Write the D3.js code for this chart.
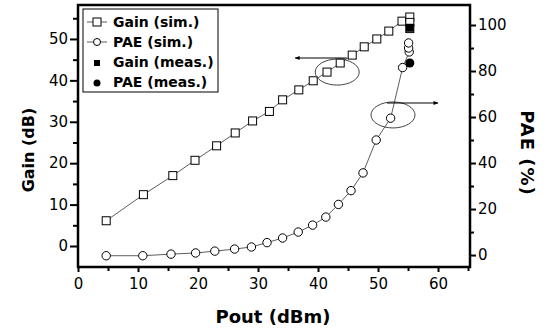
<!DOCTYPE html>
<html>
<head>
<meta charset="utf-8">
<script src="https://cdn.jsdelivr.net/npm/d3@7"></script>
<style>
  body { margin: 0; background: #fff; }
  text { font-family: "DejaVu Sans", sans-serif; }
</style>
</head>
<body>
<div id="chart"></div>
<script>
// data
const gainSimX = [4.7, 10.9, 15.8, 19.5, 23.1, 26.2, 29.1, 31.9, 34.1, 36.8, 39.2, 41.5, 43.7, 45.7, 47.7, 49.8, 51.8, 54.0, 55.3, 55.3, 55.3];
const gainSimY = [6.1, 12.4, 17.0, 20.7, 24.2, 27.3, 30.2, 32.5, 35.3, 37.7, 39.9, 42.0, 44.2, 46.1, 48.1, 50.0, 51.9, 54.3, 55.3, 54.0, 52.5];
const paeSimX = [4.7, 10.8, 15.5, 19.6, 22.8, 26.1, 28.9, 31.5, 34.1, 36.7, 39.1, 41.3, 43.4, 45.5, 47.5, 49.7, 52.1, 54.1, 55.2, 55.1, 55.1];
const paeSimY = [-0.3, -0.3, 0.4, 0.9, 1.7, 2.6, 3.5, 5.4, 7.4, 10.0, 13.0, 16.5, 22.0, 28.0, 35.7, 50.0, 59.5, 81.5, 88.3, 90.0, 92.2];
const gainMeas = [[55.3, 52.7]];
const paeMeas = [[55.3, 83.5]];

const xTicks = [0, 10, 20, 30, 40, 50, 60];
const gainTicks = [0, 10, 20, 30, 40, 50];
const paeTicks = [0, 20, 40, 60, 80, 100];

const legendItems = ["Gain (sim.)", "PAE (sim.)", "Gain (meas.)", "PAE (meas.)"];

const W = 552, H = 329;
const plot = {left: 78, right: 470, top: 5, bottom: 267};

const svg = d3.select("#chart").append("svg")
    .attr("width", W).attr("height", H);

const x = d3.scaleLinear().domain([0, 65.33]).range([plot.left, plot.right]);
const yG = d3.scaleLinear().domain([-5.07, 58.2]).range([plot.bottom, plot.top]);
const yP = d3.scaleLinear().domain([-5.2, 108.7]).range([plot.bottom, plot.top]);

// axes
function styleAxis(g, size) {
    g.select(".domain").remove();
    g.selectAll(".tick line").attr("stroke", "#000").attr("stroke-width", 2);
    g.selectAll(".tick text").style("font-size", size + "px").attr("fill", "#000");
}

svg.append("g").attr("transform", `translate(0,${plot.bottom})`)
    .call(d3.axisBottom(x).tickValues(xTicks).tickSize(5).tickPadding(6))
    .call(g => styleAxis(g, 15));
svg.append("g").attr("transform", `translate(0,${plot.bottom})`)
    .call(d3.axisBottom(x).tickValues(xTicks.map(d => d + 5)).tickSize(4).tickFormat(""))
    .call(g => styleAxis(g, 15));

svg.append("g").attr("transform", `translate(${plot.left},0)`)
    .call(d3.axisLeft(yG).tickValues(gainTicks).tickSize(8).tickPadding(2))
    .call(g => styleAxis(g, 15));
svg.append("g").attr("transform", `translate(${plot.left},0)`)
    .call(d3.axisLeft(yG).tickValues(gainTicks.map(d => d + 5)).tickSize(5).tickFormat(""))
    .call(g => styleAxis(g, 15));

svg.append("g").attr("transform", `translate(${plot.right},0)`)
    .call(d3.axisRight(yP).tickValues(paeTicks).tickSize(6).tickPadding(2))
    .call(g => styleAxis(g, 15));
svg.append("g").attr("transform", `translate(${plot.right},0)`)
    .call(d3.axisRight(yP).tickValues(paeTicks.slice(0, 5).map(d => d + 10)).tickSize(4).tickFormat(""))
    .call(g => styleAxis(g, 15));

// frame
svg.append("rect")
    .attr("x", plot.left).attr("y", plot.top)
    .attr("width", plot.right - plot.left).attr("height", plot.bottom - plot.top)
    .attr("fill", "none").attr("stroke", "#000").attr("stroke-width", 2.5);

// axis titles
svg.append("text")
    .attr("transform", `translate(28,150) rotate(-90)`)
    .attr("text-anchor", "middle").attr("dy", "0.35em")
    .style("font-size", "16px").style("font-weight", "bold")
    .text("Gain (dB)");
svg.append("text")
    .attr("transform", `translate(527,153) rotate(90)`)
    .attr("text-anchor", "middle").attr("dy", "0.35em")
    .style("font-size", "18px").style("font-weight", "bold").style("letter-spacing", "1px")
    .text("PAE (%)");
svg.append("text")
    .attr("x", 273).attr("y", 323)
    .attr("text-anchor", "middle")
    .style("font-size", "18px").style("font-weight", "bold")
    .text("Pout (dBm)");

// lines
const gainSim = gainSimX.map((d, i) => [d, gainSimY[i]]);
const paeSim = paeSimX.map((d, i) => [d, paeSimY[i]]);

svg.append("path").datum(gainSim)
    .attr("fill", "none").attr("stroke", "#333").attr("stroke-width", 0.8)
    .attr("d", d3.line().x(d => x(d[0])).y(d => yG(d[1])));
svg.append("path").datum(paeSim)
    .attr("fill", "none").attr("stroke", "#333").attr("stroke-width", 0.8)
    .attr("d", d3.line().x(d => x(d[0])).y(d => yP(d[1])));

const sq = 8;
svg.selectAll(".gsim").data(gainSim).enter().append("rect")
    .attr("x", d => x(d[0]) - sq / 2).attr("y", d => yG(d[1]) - sq / 2)
    .attr("width", sq).attr("height", sq)
    .attr("fill", "#fff").attr("stroke", "#000").attr("stroke-width", 1);
svg.selectAll(".psim").data(paeSim).enter().append("circle")
    .attr("cx", d => x(d[0])).attr("cy", d => yP(d[1])).attr("r", 4.2)
    .attr("fill", "#fff").attr("stroke", "#000").attr("stroke-width", 1);
svg.selectAll(".gmeas").data(gainMeas).enter().append("rect")
    .attr("x", d => x(d[0]) - 4).attr("y", d => yG(d[1]) - 4)
    .attr("width", 8).attr("height", 8).attr("fill", "#000");
svg.selectAll(".pmeas").data(paeMeas).enter().append("circle")
    .attr("cx", d => x(d[0])).attr("cy", d => yP(d[1])).attr("r", 4.5)
    .attr("fill", "#000");

// annotations: ellipses with arrows
svg.append("defs").append("marker")
    .attr("id", "arr").attr("viewBox", "0 0 10 10").attr("refX", 9).attr("refY", 5)
    .attr("markerWidth", 6).attr("markerHeight", 5).attr("orient", "auto")
    .append("path").attr("d", "M0,1L10,5L0,9z").attr("fill", "#000");

svg.append("ellipse")
    .attr("cx", x(43.2)).attr("cy", yG(42)).attr("rx", 22).attr("ry", 13)
    .attr("fill", "none").attr("stroke", "#444").attr("stroke-width", 1);
svg.append("line")
    .attr("x1", x(44.8)).attr("x2", x(36.2)).attr("y1", yG(45.4)).attr("y2", yG(45.4))
    .attr("stroke", "#000").attr("stroke-width", 1).attr("marker-end", "url(#arr)");

svg.append("ellipse")
    .attr("cx", x(52.5)).attr("cy", yP(60.9)).attr("rx", 22).attr("ry", 13)
    .attr("fill", "none").attr("stroke", "#444").attr("stroke-width", 1);
svg.append("line")
    .attr("x1", x(51.5)).attr("x2", x(60)).attr("y1", yP(66.1)).attr("y2", yP(66.1))
    .attr("stroke", "#000").attr("stroke-width", 1).attr("marker-end", "url(#arr)");

// legend
const lg = svg.append("g").attr("transform", "translate(83,9)");
lg.append("rect").attr("width", 135).attr("height", 83)
    .attr("fill", "#fff").attr("stroke", "#000").attr("stroke-width", 1);
legendItems.forEach((t, i) => {
    const cy = 13 + i * 20;
    if (i < 2) {
        lg.append("line").attr("x1", 4).attr("x2", 24).attr("y1", cy).attr("y2", cy)
            .attr("stroke", "#333").attr("stroke-width", 0.8);
    }
    if (i === 0) {
        lg.append("rect").attr("x", 10).attr("y", cy - 4).attr("width", 8).attr("height", 8)
            .attr("fill", "#fff").attr("stroke", "#000");
    } else if (i === 1) {
        lg.append("circle").attr("cx", 14).attr("cy", cy).attr("r", 3.5)
            .attr("fill", "#fff").attr("stroke", "#000");
    } else if (i === 2) {
        lg.append("rect").attr("x", 11).attr("y", cy - 2).attr("width", 6).attr("height", 6)
            .attr("fill", "#000");
    } else {
        lg.append("circle").attr("cx", 14).attr("cy", cy + 1).attr("r", 3.5).attr("fill", "#000");
    }
    lg.append("text").attr("x", 30).attr("y", cy).attr("dy", "0.35em")
        .style("font-size", "14px").style("font-weight", "bold")
        .text(t);
});
</script>
</body>
</html>
